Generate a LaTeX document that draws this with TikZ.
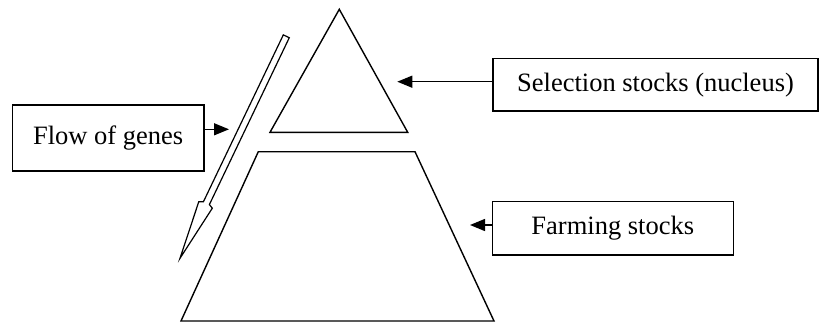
\documentclass[tikz,border=0pt]{standalone}
\usepackage{fontspec}
\setmainfont{Liberation Serif}
\usetikzlibrary{arrows.meta,calc}
\begin{document}
\begin{tikzpicture}[x=1pt,y=-1pt,
  box/.style={draw,line width=1.6pt,inner sep=0pt,font=\fontsize{26.5}{30}\selectfont},
  outline/.style={draw,line width=1.4pt,line join=miter},
  pointer/.style={line width=1.3pt,-{Triangle[length=15pt,width=12pt]}}]
\useasboundingbox (0,0) rectangle (820,322);
% pyramid
\draw[outline] (339.3,9.3) -- (407.7,132.3) -- (270,132.3) -- cycle;
\draw[outline] (258.3,151.7) -- (415,151.7) -- (494,321) -- (181,321) -- cycle;
% boxes
\node[box,minimum width=191.7pt,minimum height=65.7pt] (fg) at (108.2,137.9) {Flow of genes};
\node[box,minimum width=325pt,minimum height=52.7pt] (ss) at (655.5,84.7) {Selection stocks (nucleus)};
\node[box,minimum width=241pt,minimum height=53.3pt] (fs) at (612.8,228.3) {Farming stocks};
% pointers
\coordinate (fgtip) at (229,129.3);
\draw[pointer] (fgtip -| fg.east) -- (fgtip);
\coordinate (sstip) at (397.3,81.7);
\draw[pointer] (sstip -| ss.west) -- (sstip);
\coordinate (fstip) at (470,225);
\draw[pointer] (fstip -| fs.west) -- (fstip);
% hollow flow arrow
\coordinate (gs) at (286.3,36.3);
\coordinate (gt) at (180,258.3);
\coordinate (gh) at ($(gs)!185pt!(gt)$);
\coordinate (gb) at ($(gs)!187pt!(gt)$);
\draw[line width=1.2pt,line join=miter]
  ($(gs)!3.3pt!90:(gt)$) -- ($(gh)!3.3pt!90:(gt)$) -- ($(gb)!7.5pt!90:(gt)$) -- (gt)
  -- ($(gb)!7.5pt!-90:(gt)$) -- ($(gh)!3.3pt!-90:(gt)$) -- ($(gs)!3.3pt!-90:(gt)$) -- cycle;
\end{tikzpicture}
\end{document}
